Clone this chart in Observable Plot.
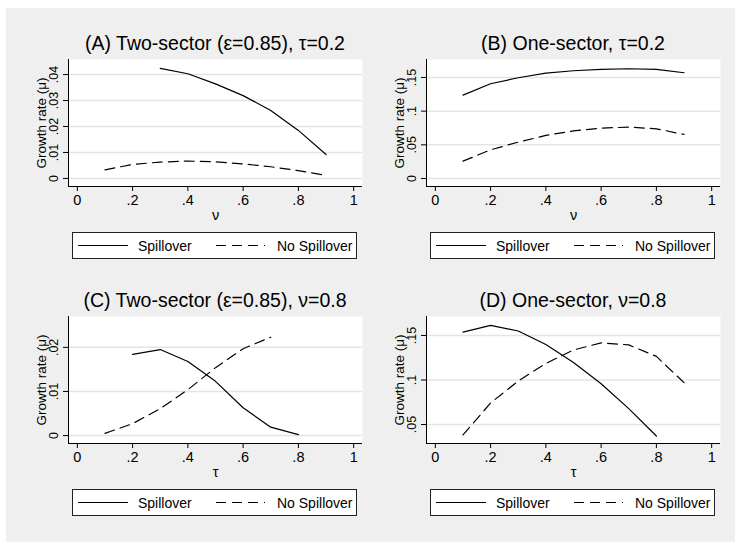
<!DOCTYPE html>
<html>
<head>
<meta charset="utf-8">
<script src="https://cdn.jsdelivr.net/npm/d3@7"></script>
<script src="https://cdn.jsdelivr.net/npm/@observablehq/plot@0.6"></script>
<style>
  html, body { margin: 0; padding: 0; background: #ffffff; }
  #wrap { position: relative; width: 735px; height: 542px; overflow: hidden; font-family: "Liberation Sans", Arial, sans-serif; }
  #bg { position: absolute; left: 6px; top: 8px; width: 729px; height: 534px; background: #efefef; }
  .panel { position: absolute; }
  #overlay { position: absolute; left: 0; top: 0; }
</style>
</head>
<body>
<div id="wrap"><div id="bg"></div></div>
<script>
// ---------- data ----------
const xTicks = [0, 0.2, 0.4, 0.6, 0.8, 1];
const xTickLabels = ["0", ".2", ".4", ".6", ".8", "1"];

// Panel A: Two-sector (ε=0.85), τ=0.2 ; x = ν
const titleA = "(A) Two-sector (\u03B5=0.85), \u03C4=0.2";
const nuA_spill = [0.3, 0.4, 0.5, 0.6, 0.7, 0.8, 0.9];
const gA_spill = [0.0424, 0.0403, 0.0364, 0.0319, 0.0262, 0.0185, 0.0092];
const nuA_nospill = [0.1, 0.2, 0.3, 0.4, 0.5, 0.6, 0.7, 0.8, 0.9];
const gA_nospill = [0.0033, 0.0054, 0.0063, 0.0067, 0.0064, 0.0056, 0.0045, 0.0030, 0.0012];
const yTicksA = [0, 0.01, 0.02, 0.03, 0.04];
const yTickLabelsA = ["0", ".01", ".02", ".03", ".04"];

// Panel B: One-sector, τ=0.2 ; x = ν
const titleB = "(B) One-sector, \u03C4=0.2";
const nuB_spill = [0.1, 0.2, 0.3, 0.4, 0.5, 0.6, 0.7, 0.8, 0.9];
const gB_spill = [0.1238, 0.1407, 0.1496, 0.1565, 0.1600, 0.1620, 0.1630, 0.1620, 0.1570];
const nuB_nospill = [0.1, 0.2, 0.3, 0.4, 0.5, 0.6, 0.7, 0.8, 0.9];
const gB_nospill = [0.0258, 0.0426, 0.0540, 0.0639, 0.0708, 0.0748, 0.0763, 0.0738, 0.0654];
const yTicksB = [0, 0.05, 0.1, 0.15];
const yTickLabelsB = ["0", ".05", ".1", ".15"];

// Panel C: Two-sector (ε=0.85), ν=0.8 ; x = τ
const titleC = "(C) Two-sector (\u03B5=0.85), \u03BD=0.8";
const tauC_spill = [0.2, 0.3, 0.4, 0.5, 0.6, 0.7, 0.8];
const gC_spill = [0.0184, 0.0195, 0.0168, 0.0123, 0.0063, 0.0019, 0.0002];
const tauC_nospill = [0.1, 0.2, 0.3, 0.4, 0.5, 0.6, 0.7];
const gC_nospill = [0.0005, 0.0027, 0.0061, 0.0104, 0.0154, 0.0197, 0.0223];
const yTicksC = [0, 0.01, 0.02];
const yTickLabelsC = ["0", ".01", ".02"];

// Panel D: One-sector, ν=0.8 ; x = τ
const titleD = "(D) One-sector, \u03BD=0.8";
const tauD_spill = [0.1, 0.2, 0.3, 0.4, 0.5, 0.6, 0.7, 0.8];
const gD_spill = [0.1538, 0.1614, 0.1550, 0.1398, 0.1197, 0.0958, 0.0678, 0.0371];
const tauD_nospill = [0.1, 0.2, 0.3, 0.4, 0.5, 0.6, 0.7, 0.8, 0.9];
const gD_nospill = [0.0383, 0.0742, 0.0989, 0.1186, 0.1337, 0.1417, 0.1394, 0.1265, 0.0970];
const yTicksD = [0.05, 0.1, 0.15];
const yTickLabelsD = [".05", ".1", ".15"];

const yTitle = "Growth rate (\u03BC)";
const seriesNames = ["Spillover", "No Spillover"];

// ---------- drawing ----------
const FONT = "'Liberation Sans', Arial, Helvetica, sans-serif";
const xDomain = [-0.032, 1.032];
const DASH = "10,6";

function makePanel(cfg) {
  const spill = cfg.xs1.map((x, i) => ({x, y: cfg.ys1[i]}));
  const nospill = cfg.xs2.map((x, i) => ({x, y: cfg.ys2[i]}));
  const yLab = new Map(cfg.yTicks.map((t, i) => [t, cfg.yLabels[i]]));
  const xLab = new Map(xTicks.map((t, i) => [t, xTickLabels[i]]));
  return Plot.plot({
    width: 367,
    height: 190,
    marginLeft: cfg.ml,
    marginRight: 367 - cfg.ml - 294,
    marginTop: 19,
    marginBottom: 44,
    style: {fontFamily: FONT, background: "transparent", color: "#000", overflow: "visible"},
    x: {domain: xDomain},
    y: {domain: cfg.yDomain},
    marks: [
      Plot.frame({fill: "white", stroke: null}),
      Plot.gridY(cfg.yTicks, {stroke: "#e4e4e4", strokeOpacity: 1, strokeWidth: 1.5}),
      Plot.ruleX([xDomain[0]], {stroke: "#000", strokeWidth: 1}),
      Plot.ruleY([cfg.yDomain[0]], {stroke: "#000", strokeWidth: 1}),
      Plot.axisX(xTicks, {tickSize: 5, tickPadding: 3, fontSize: 14.5, tickFormat: d => xLab.get(d), label: null}),
      Plot.axisY(cfg.yTicks, {tickSize: 5, tickPadding: 6, tickRotate: -90, fontSize: 12.5, tickFormat: d => yLab.get(d), label: null}),
      Plot.text([cfg.xTitle], {frameAnchor: "bottom", dy: 33, fontSize: 14.5, text: d => d}),
      Plot.text([yTitle], {frameAnchor: "left", textAnchor: "middle", rotate: -90, dx: -27, fontSize: 13.5, text: d => d}),
      Plot.line(nospill, {x: "x", y: "y", stroke: "#000", strokeWidth: 1.2, strokeDasharray: DASH}),
      Plot.line(spill, {x: "x", y: "y", stroke: "#000", strokeWidth: 1.2})
    ]
  });
}

const wrap = document.getElementById("wrap");
const panels = [
  {left: 0, top: 40, ml: 68, xs1: nuA_spill, ys1: gA_spill, xs2: nuA_nospill, ys2: gA_nospill,
   yDomain: [-0.0031, 0.0458], yTicks: yTicksA, yLabels: yTickLabelsA, xTitle: "\u03BD", title: titleA},
  {left: 360, top: 40, ml: 66, xs1: nuB_spill, ys1: gB_spill, xs2: nuB_nospill, ys2: gB_nospill,
   yDomain: [-0.0119, 0.1767], yTicks: yTicksB, yLabels: yTickLabelsB, xTitle: "\u03BD", title: titleB},
  {left: 0, top: 297, ml: 68, xs1: tauC_spill, ys1: gC_spill, xs2: tauC_nospill, ys2: gC_nospill,
   yDomain: [-0.0018, 0.0270], yTicks: yTicksC, yLabels: yTickLabelsC, xTitle: "\u03C4", title: titleC},
  {left: 360, top: 297, ml: 66, xs1: tauD_spill, ys1: gD_spill, xs2: tauD_nospill, ys2: gD_nospill,
   yDomain: [0.0287, 0.1713], yTicks: yTicksD, yLabels: yTickLabelsD, xTitle: "\u03C4", title: titleD}
];

for (const p of panels) {
  const div = document.createElement("div");
  div.className = "panel";
  div.style.left = p.left + "px";
  div.style.top = p.top + "px";
  div.appendChild(makePanel(p));
  wrap.appendChild(div);
}

// overlay: titles and legends
const svg = d3.select(wrap).append("svg").attr("id", "overlay")
  .attr("width", 735).attr("height", 542).style("font-family", FONT);

for (const p of panels) {
  const plotLeft = p.left + p.ml;
  const cx = plotLeft + 147;
  const plotTop = p.top + 19;
  svg.append("text").attr("x", cx).attr("y", plotTop - 9)
    .attr("text-anchor", "middle").attr("font-size", 19.5).attr("fill", "#000").text(p.title);

  // legend
  const lx = plotLeft + 4, ly = p.top + 192, lw = 284, lh = 26;
  const g = svg.append("g").attr("transform", `translate(${lx},${ly})`);
  g.append("rect").attr("x", 0.5).attr("y", 0.5).attr("width", lw).attr("height", lh)
    .attr("fill", "white").attr("stroke", "#222").attr("stroke-width", 1);
  const my = lh / 2 + 0.5;
  g.append("line").attr("x1", 6).attr("x2", 56).attr("y1", my).attr("y2", my)
    .attr("stroke", "#000").attr("stroke-width", 1.2);
  g.append("text").attr("x", 66).attr("y", my + 5).attr("font-size", 14).text(seriesNames[0]);
  g.append("line").attr("x1", 144).attr("x2", 193).attr("y1", my).attr("y2", my)
    .attr("stroke", "#000").attr("stroke-width", 1.2).attr("stroke-dasharray", "10,6");
  g.append("text").attr("x", 205).attr("y", my + 5).attr("font-size", 14).text(seriesNames[1]);
}
</script>
</body>
</html>
